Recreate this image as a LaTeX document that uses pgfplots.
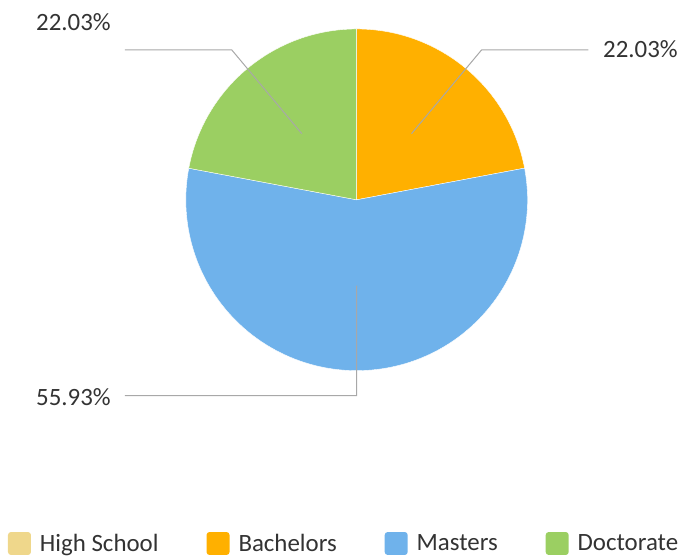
\documentclass[border=0pt]{standalone}
\usepackage{pgfplots}
\usepackage{pgfplotstable}
\pgfplotsset{compat=1.18}
\usepackage{fontspec}
\setmainfont{Carlito}
\definecolor{cHS}{HTML}{EFD78B}
\definecolor{cBA}{HTML}{FFB000}
\definecolor{cMA}{HTML}{6FB2EB}
\definecolor{cDO}{HTML}{9BCF62}
\definecolor{lead}{HTML}{A8A8A8}
\definecolor{txt}{HTML}{333333}

\pgfplotstableread{
idx value
0 0
1 22.03
2 55.93
3 22.03
}\piedata

\begin{document}
\begin{tikzpicture}
\pgfplotstablegetelem{1}{value}\of\piedata \let\vB\pgfplotsretval
\pgfplotstablegetelem{2}{value}\of\piedata \let\vM\pgfplotsretval
\pgfplotstablegetelem{3}{value}\of\piedata \let\vD\pgfplotsretval
\pgfmathsetmacro\aA{90}
\pgfmathsetmacro\aB{\aA-3.6*\vB}
\pgfmathsetmacro\aM{\aB-3.6*\vM}
\pgfmathsetmacro\aD{\aM-3.6*\vD}
\pgfmathsetmacro\mB{(\aA+\aB)/2}
\pgfmathsetmacro\mM{(\aB+\aM)/2}
\pgfmathsetmacro\mD{(\aM+\aD)/2}
\begin{axis}[
  width=681bp, height=558bp, scale only axis,
  xmin=0, xmax=681, ymin=0, ymax=558,
  enlargelimits=false, hide axis, clip=false,
  legend image code/.code={\fill[#1, draw=none, rounded corners=3bp] (0bp,-11.5bp) rectangle (23bp,11.5bp);},
  legend style={at={(axis cs:8,14)}, anchor=west, draw=none, fill=none,
    legend columns=4, font=\fontsize{25}{30}\selectfont, text=txt,
    inner sep=0pt, outer sep=0pt, nodes={inner sep=0pt},
    /tikz/every odd column/.append style={column sep=9bp},
    /tikz/every even column/.append style={column sep=48bp}},
]
\path (axis cs:0,0) rectangle (axis cs:681,558);
% slices
\fill[cBA, draw=white, line width=0.4bp] (axis cs:357,358) -- ++(\aA:171bp) arc[start angle=\aA, end angle=\aB, radius=171bp] -- cycle;
\fill[cMA, draw=white, line width=0.4bp] (axis cs:357,358) -- ++(\aB:171bp) arc[start angle=\aB, end angle=\aM, radius=171bp] -- cycle;
\fill[cDO, draw=white, line width=0.4bp] (axis cs:357,358) -- ++(\aM:171bp) arc[start angle=\aM, end angle=\aD, radius=171bp] -- cycle;
% leader lines
\draw[lead, line width=1bp] (axis cs:357,358) ++(\mB:86bp) -- (axis cs:482,508) -- (axis cs:589,508);
\draw[lead, line width=1bp] (axis cs:357,358) ++(\mD:86bp) -- (axis cs:232,508) -- (axis cs:125,508);
\draw[lead, line width=1bp] (axis cs:357,358) ++(\mM:86bp) -- (axis cs:357,162) -- (axis cs:125,162);
% labels
\node[text=txt, font=\fontsize{25}{30}\selectfont] at (axis cs:641,509) {\pgfmathprintnumber[fixed,fixed zerofill,precision=2,assume math mode=true]{\vB}\%};
\node[text=txt, font=\fontsize{25}{30}\selectfont] at (axis cs:73.5,535.5) {\pgfmathprintnumber[fixed,fixed zerofill,precision=2,assume math mode=true]{\vD}\%};
\node[text=txt, font=\fontsize{25}{30}\selectfont] at (axis cs:73.5,160.5) {\pgfmathprintnumber[fixed,fixed zerofill,precision=2,assume math mode=true]{\vM}\%};
% legend
\addlegendimage{fill=cHS}\addlegendentry{High School}
\addlegendimage{fill=cBA}\addlegendentry{Bachelors}
\addlegendimage{fill=cMA}\addlegendentry{Masters}
\addlegendimage{fill=cDO}\addlegendentry{Doctorate}
\end{axis}
\end{tikzpicture}
\end{document}
